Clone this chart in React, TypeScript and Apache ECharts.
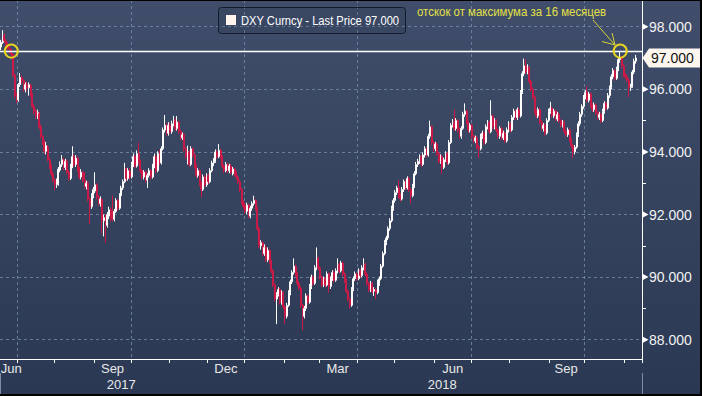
import React, { useEffect, useRef } from 'react';
import * as echarts from 'echarts';

// ---------- categories (trading days) ----------
const startDate = '2017-06-19';
const endDate = '2018-11-14';
const monthLabelDates = ['2017-06-27', '2017-09-15', '2017-12-15', '2018-03-15', '2018-06-15', '2018-09-14'];
const yearLabelDates = ['2017-09-22', '2018-06-07'];
const yearSeparatorDate = '2018-01-01';
const monthNames = ['Jan', 'Feb', 'Mar', 'Apr', 'May', 'Jun', 'Jul', 'Aug', 'Sep', 'Oct', 'Nov', 'Dec'];

// ---------- y axis ----------
const yRange = [87.384, 98.853];
const majorTicks = [88, 90, 92, 94, 96, 98];
const minorTicks = [89, 91, 93, 95, 97];
const highLine = 97.22;
const lastPrice = 97.0;
const circleDates = ['2017-06-27', '2018-10-29'];

// ---------- texts ----------
const legendText = 'DXY Curncy - Last Price 97.000';
const noteText = 'отскок от максимума за 16 месяцев';

// ---------- daily OHLC: [open, close, low, high] ----------
const ohlc: number[][] = [
  [97.35,97.5,97.25,97.58],[97.5,97.72,97.45,97.89],[97.72,97.55,97.48,97.8],[97.55,97.42,97.35,97.62],[97.42,97.3,97.22,97.5],
  [97.3,97.24,97.14,97.4],[97.24,97.12,97.05,97.3],[97.12,96.45,96.4,97.16],[96.45,95.8,95.72,96.5],[95.8,95.66,95.56,95.88],
  [95.66,96.15,95.6,96.2],[96.15,96.38,96.08,96.52],[96.38,96.28,96.18,96.45],[96.28,96.0,95.92,96.32],[96.0,96.15,95.9,96.22],
  [96.15,96.05,95.95,96.25],[96.05,96.15,95.8,96.22],[96.12,95.82,95.75,96.18],[95.82,95.45,95.4,95.88],[95.45,95.3,95.2,95.52],
  [95.3,95.15,95.05,95.38],[95.15,95.25,95.05,95.35],[95.22,94.8,94.72,95.28],[94.8,94.5,94.42,94.88],[94.5,94.3,94.22,94.55],
  [94.3,94.02,93.95,94.38],[94.02,94.2,93.92,94.32],[94.15,93.75,93.7,94.22],[93.75,93.55,93.45,93.82],[93.55,93.3,93.22,93.6],
  [93.3,93.1,93.02,93.38],[93.1,92.95,92.78,93.15],[92.95,93.05,92.85,93.15],[93.0,93.45,92.92,93.52],[93.42,93.6,93.35,93.7],
  [93.6,93.75,93.52,93.9],[93.75,93.5,93.42,93.82],[93.5,93.7,93.42,93.78],[93.7,93.35,93.28,93.75],[93.35,93.15,93.08,93.42],
  [93.15,93.55,93.1,93.62],[93.55,93.85,93.48,94.18],[93.85,93.6,93.52,93.92],[93.6,93.8,93.52,93.9],[93.8,93.45,93.38,93.85],
  [93.45,93.2,93.12,93.52],[93.2,93.35,93.12,93.45],[93.35,93.1,93.02,93.4],[93.1,92.9,92.82,93.35],[92.9,93.0,92.8,93.08],
  [93.0,92.5,92.42,93.05],[92.5,92.25,91.7,92.55],[92.25,92.6,92.18,92.68],[92.6,92.8,92.52,92.88],[92.75,92.95,92.68,93.35],
  [92.95,92.55,92.48,93.0],[92.55,92.35,92.28,92.62],[92.35,92.5,92.25,92.58],[92.48,91.8,91.4,92.52],[91.8,91.9,91.3,92.0],
  [91.95,91.65,91.1,92.0],[91.65,92.0,91.58,92.08],[91.95,92.15,91.85,92.25],[92.15,91.85,91.78,92.22],[92.05,91.85,91.78,92.6],
  [91.85,92.1,91.78,92.18],[92.1,92.45,92.05,92.52],[92.45,92.2,92.12,92.5],[92.2,92.6,92.15,92.68],[92.6,92.85,92.52,92.92],
  [92.85,93.05,92.78,93.12],[93.05,93.45,93.0,93.65],[93.45,93.15,93.08,93.5],[93.15,93.4,93.08,93.48],[93.4,93.2,93.12,93.48],
  [93.2,93.6,93.15,93.68],[93.6,93.85,93.52,93.95],[93.85,93.55,93.48,93.9],[93.55,93.95,93.5,94.05],[93.95,93.7,93.62,94.3],
  [93.7,93.4,93.32,93.75],[93.4,93.2,93.12,93.45],[93.2,93.35,93.12,93.42],[93.35,93.1,93.02,93.4],[93.1,93.25,92.85,93.32],
  [93.25,93.4,93.18,93.48],[93.4,93.2,93.12,93.45],[93.2,93.55,93.15,93.62],[93.55,93.85,93.48,93.95],[93.85,93.4,93.32,93.9],
  [93.4,93.95,93.35,94.02],[93.95,93.65,93.58,94.05],[93.65,94.1,93.6,94.18],[94.1,94.7,94.05,94.78],[94.7,94.85,94.62,95.18],
  [94.85,94.6,94.52,94.92],[94.6,94.85,94.52,94.95],[94.85,94.65,94.58,94.92],[94.65,94.9,94.58,95.0],[94.9,95.0,94.82,95.15],
  [95.0,94.75,94.68,95.08],[94.75,94.95,94.68,95.15],[94.95,94.65,94.58,95.0],[94.65,94.45,94.38,94.72],[94.45,94.55,94.38,94.62],
  [94.55,94.1,94.02,94.6],[94.1,93.85,93.78,94.15],[93.85,94.0,93.6,94.2],[94.0,93.6,93.52,94.05],[93.6,94.1,93.55,94.18],
  [94.1,93.9,93.82,94.15],[93.9,93.55,93.48,93.95],[93.55,93.25,93.18,93.6],[93.25,93.4,93.18,93.48],[93.4,93.0,92.92,93.45],
  [93.0,92.8,92.55,93.05],[92.8,93.2,92.75,93.28],[93.2,92.95,92.88,93.25],[92.95,93.25,92.88,93.32],[93.25,93.05,92.98,93.3],
  [93.05,93.4,93.0,93.48],[93.4,93.65,93.35,93.72],[93.65,93.7,93.55,93.8],[93.7,94.0,93.65,94.08],[94.0,93.85,93.78,94.05],
  [93.85,94.05,93.8,94.25],[94.05,93.85,93.78,94.1],[93.85,93.55,93.48,93.9],[93.55,93.4,93.32,93.6],[93.4,93.6,93.35,93.68],
  [93.6,93.4,93.32,93.65],[93.4,93.55,93.32,93.62],[93.55,93.35,93.28,93.6],[93.3,93.45,93.25,93.52],[93.45,93.3,93.22,93.5],
  [93.3,93.2,93.12,93.38],[93.2,93.05,92.98,93.25],[93.05,92.8,92.72,93.1],[92.8,92.4,92.32,92.85],[92.4,92.25,92.18,92.45],
  [92.3,92.1,92.02,92.38],[92.1,92.3,92.02,92.38],[92.3,91.95,91.88,92.35],[91.95,92.2,91.88,92.28],[92.2,92.35,92.12,92.42],
  [92.35,92.45,92.28,92.6],[92.45,92.2,92.12,92.5],[92.2,91.55,91.48,92.25],[91.55,91.0,90.92,91.6],[91.0,91.1,90.88,91.18],
  [91.1,90.75,90.68,91.15],[90.75,90.95,90.68,91.05],[90.95,90.55,90.48,91.0],[90.55,90.85,90.48,90.95],[90.85,90.5,90.42,90.9],
  [90.5,90.2,90.12,90.55],[90.2,89.75,89.68,90.25],[89.75,89.3,89.22,89.8],[89.3,89.45,88.5,89.52],[89.45,89.6,89.38,89.68],
  [89.6,89.2,89.12,89.65],[89.2,89.5,89.12,89.58],[89.5,89.05,88.98,89.55],[89.05,88.75,88.5,89.1],[88.75,89.1,88.68,89.18],
  [89.1,89.5,89.05,89.58],[89.5,89.85,89.42,89.92],[89.85,90.15,89.78,90.22],[90.15,90.35,90.08,90.6],[90.35,90.1,90.02,90.4],
  [90.1,89.8,89.72,90.15],[89.8,89.65,89.58,89.88],[89.65,89.1,89.02,89.7],[89.1,88.75,88.3,89.15],[88.75,89.0,88.68,89.08],
  [89.0,89.4,88.92,89.48],[89.4,89.2,89.12,89.45],[89.2,89.7,89.15,89.78],[89.7,90.0,89.62,90.08],[90.0,89.8,89.72,90.05],
  [89.8,90.3,89.75,90.38],[90.3,90.6,90.22,90.95],[90.6,90.3,90.22,90.65],[90.3,90.0,89.92,90.35],[90.0,89.75,89.68,90.05],
  [89.75,89.95,89.68,90.02],[89.95,89.75,89.68,90.0],[89.75,90.1,89.7,90.18],[90.1,89.7,89.5,90.15],[89.7,89.95,89.62,90.02],
  [89.95,90.15,89.88,90.22],[90.15,89.9,89.82,90.2],[89.9,90.2,89.85,90.28],[90.2,90.4,90.12,90.6],[90.4,90.2,90.12,90.45],
  [90.2,90.45,90.15,90.52],[90.45,90.1,90.02,90.5],[90.1,89.9,89.82,90.15],[89.9,89.55,89.48,89.95],[89.55,89.3,89.22,89.6],
  [89.3,89.1,89.0,89.35],[89.1,89.6,89.05,89.68],[89.6,89.95,89.55,90.02],[89.95,90.1,89.88,90.18],[90.1,89.95,89.88,90.15],
  [89.95,90.2,89.9,90.28],[90.2,90.05,89.98,90.25],[90.05,90.3,90.0,90.38],[90.3,90.4,90.22,90.6],[90.4,90.1,90.02,90.45],
  [90.1,89.8,89.72,90.15],[89.8,89.6,89.52,89.85],[89.6,89.8,89.52,89.88],[89.8,89.55,89.48,89.85],[89.55,89.6,89.4,89.68],
  [89.6,89.5,89.3,89.65],[89.5,89.85,89.45,89.92],[89.8,89.95,89.72,90.02],[89.95,90.35,89.9,90.42],[90.35,90.75,90.3,90.82],
  [90.75,91.1,90.7,91.18],[91.1,91.25,91.02,91.32],[91.25,91.55,91.18,91.62],[91.55,91.8,91.48,91.88],[91.8,92.2,91.75,92.28],
  [92.2,92.45,92.12,92.52],[92.45,92.7,92.38,92.78],[92.7,92.85,92.62,92.92],[92.85,92.6,92.52,93.1],[92.6,92.5,92.42,92.68],
  [92.5,92.8,92.45,92.88],[92.8,93.05,92.72,93.12],[93.05,92.85,92.78,93.1],[92.85,93.15,92.8,93.22],[93.15,92.8,92.72,93.2],
  [92.8,92.6,92.35,92.85],[92.6,92.9,92.55,92.98],[92.9,93.3,92.85,93.38],[93.3,93.6,93.25,93.68],[93.6,93.7,93.52,93.78],
  [93.7,93.85,93.62,93.92],[93.85,93.6,93.52,93.9],[93.6,93.9,93.55,93.98],[93.9,94.1,93.82,94.18],[94.1,93.9,93.82,94.15],
  [93.9,94.5,93.85,94.58],[94.5,94.8,94.42,95.0],[94.8,94.3,94.22,94.85],[94.3,94.1,94.02,94.35],[94.1,94.25,94.02,94.32],
  [94.25,93.95,93.88,94.3],[93.95,93.7,93.62,94.0],[93.7,93.85,93.62,93.92],[93.85,93.5,93.3,93.9],[93.5,93.75,93.45,93.82],
  [93.75,93.95,93.68,94.02],[93.95,93.65,93.58,94.0],[93.65,94.3,93.6,94.38],[94.3,94.85,94.25,94.92],[94.85,94.95,94.78,95.05],
  [94.95,94.75,94.68,95.35],[94.75,95.0,94.68,95.08],[95.0,94.7,94.62,95.05],[94.7,94.5,94.42,94.75],[94.5,94.75,94.42,94.82],
  [94.75,95.2,94.7,95.28],[95.2,95.3,95.12,95.55],[95.3,94.95,94.88,95.35],[94.95,94.7,94.62,95.0],[94.7,94.85,94.62,94.92],
  [94.85,94.5,94.42,94.9],[94.5,94.35,94.28,94.55],[94.35,94.45,94.28,94.52],[94.45,94.15,94.08,94.5],[94.15,94.1,93.8,94.22],
  [94.1,94.5,94.05,94.58],[94.5,94.6,94.42,94.68],[94.6,94.3,94.22,94.65],[94.3,94.8,94.25,94.88],[94.8,94.95,94.72,95.02],
  [94.95,94.65,94.58,95.0],[94.65,95.15,94.6,95.65],[95.15,94.8,94.72,95.2],[94.8,95.0,94.72,95.08],[95.0,94.7,94.62,95.05],
  [94.7,94.5,94.42,94.75],[94.5,94.75,94.42,94.82],[94.75,94.45,94.38,94.8],[94.45,94.6,94.38,94.68],[94.6,94.35,94.28,94.65],
  [94.35,94.7,94.3,94.78],[94.7,94.9,94.62,94.98],[94.9,94.7,94.62,94.95],[94.7,95.1,94.65,95.18],[95.1,95.3,95.02,95.38],
  [95.3,95.1,95.02,95.35],[95.1,95.35,95.02,95.42],[95.35,95.15,95.08,95.4],[95.15,95.9,95.1,95.98],[95.9,96.5,95.85,96.58],
  [96.5,96.75,96.42,96.98],[96.75,96.55,96.48,96.95],[96.55,96.7,96.48,96.8],[96.7,96.25,96.18,96.75],[96.25,96.0,95.92,96.3],
  [96.0,95.75,95.68,96.05],[95.75,95.3,95.22,95.8],[95.3,95.15,95.08,95.35],[95.15,95.35,95.08,95.42],[95.35,94.95,94.88,95.4],
  [94.95,94.75,94.68,95.0],[94.75,94.85,94.65,94.92],[94.85,94.6,94.52,94.9],[94.6,95.0,94.55,95.08],[95.0,95.3,94.95,95.38],
  [95.3,95.4,95.22,95.6],[95.4,95.15,95.08,95.45],[95.15,95.3,95.08,95.38],[95.3,95.05,94.98,95.35],[95.05,95.2,94.98,95.28],
  [95.2,95.0,94.92,95.25],[95.0,94.85,94.78,95.05],[94.85,94.95,94.78,95.02],[94.95,94.65,94.58,95.0],[94.65,94.55,94.48,94.72],
  [94.55,94.7,94.48,94.78],[94.7,94.4,94.32,94.75],[94.4,94.2,94.12,94.45],[94.2,94.0,93.8,94.25],[94.0,94.15,93.92,94.22],
  [94.15,94.55,94.1,94.62],[94.55,94.9,94.48,94.98],[94.9,95.2,94.82,95.28],[95.2,95.45,95.12,95.52],[95.45,95.75,95.38,95.82],
  [95.75,95.9,95.68,95.98],[95.9,95.65,95.58,96.1],[95.65,95.85,95.58,95.92],[95.85,95.5,95.42,95.9],[95.5,95.35,95.28,95.55],
  [95.35,95.5,95.28,95.58],[95.5,95.25,95.18,95.55],[95.25,95.1,95.02,95.3],[95.1,95.2,95.02,95.28],[95.2,95.0,94.92,95.25],
  [95.0,95.3,94.95,95.38],[95.3,95.55,95.22,95.62],[95.55,95.4,95.32,95.6],[95.4,95.8,95.35,95.88],[95.8,96.05,95.72,96.12],
  [96.05,96.4,96.0,96.48],[96.4,96.6,96.32,96.68],[96.6,96.35,96.28,96.65],[96.35,96.65,96.3,96.72],[96.65,96.95,96.58,97.02],
  [96.95,97.0,96.85,97.2],[97.0,96.75,96.68,97.05],[96.75,96.45,96.38,96.8],[96.45,96.4,96.32,96.52],[96.4,96.3,96.22,96.48],
  [96.3,96.05,95.75,96.35],[96.05,96.1,95.95,96.18],[96.1,96.55,96.05,96.62],[96.55,96.9,96.48,96.98],[96.9,97.0,96.82,97.1],
];

const FONT = "'Liberation Sans', Arial, sans-serif";

function tradingDays(start: string, end: string): string[] {
  const out: string[] = [];
  const d = new Date(start + 'T00:00:00Z');
  const e = new Date(end + 'T00:00:00Z');
  while (d.getTime() <= e.getTime()) {
    const wd = d.getUTCDay();
    if (wd !== 0 && wd !== 6) out.push(d.toISOString().slice(0, 10));
    d.setUTCDate(d.getUTCDate() + 1);
  }
  return out;
}

export default function App() {
  const ref = useRef<HTMLDivElement>(null);

  useEffect(() => {
    if (!ref.current) return;
    const chart = echarts.init(ref.current, undefined, { renderer: 'svg' });
    const dates = tradingDays(startDate, endDate);
    const monthOf = (s: string) => s.slice(0, 7);
    const isMonthStart = (i: number) => i > 0 && monthOf(dates[i]) !== monthOf(dates[i - 1]);
    const isQuarterStart = (i: number) => isMonthStart(i) && [1, 4, 7, 10].includes(+dates[i].slice(5, 7));
    const labelSet = new Set(monthLabelDates);
    const yearSet = new Set(yearLabelDates);

    const gridLine = { color: 'rgba(120,145,175,0.75)', width: 1, type: [3, 3] as number[] };

    chart.setOption({
      animation: false,
      backgroundColor: new echarts.graphic.LinearGradient(0, 0, 0, 1, [
        { offset: 0, color: '#404e6b' },
        { offset: 1, color: '#2a3853' },
      ]),
      grid: { left: 0, right: 60, top: 0, bottom: 37, outerBoundsMode: 'none', containLabel: false },
      xAxis: [
        {
          type: 'category',
          data: dates,
          boundaryGap: true,
          axisLine: { show: true, onZero: false, lineStyle: { color: '#ffffff', width: 1 } },
          axisTick: { show: true, interval: (i: number) => isMonthStart(i), length: 4, lineStyle: { color: '#ffffff' } },
          axisLabel: {
            interval: (_i: number, v: string) => labelSet.has(v),
            formatter: (v: string) => monthNames[+v.slice(5, 7) - 1],
            color: '#e8e8e8', fontSize: 13, fontFamily: FONT, margin: 3,
          },
          splitLine: { show: true, interval: (i: number) => isQuarterStart(i), lineStyle: gridLine },
        },
        {
          type: 'category',
          data: dates,
          boundaryGap: true,
          position: 'bottom',
          offset: 14,
          axisLine: { show: false, onZero: false },
          axisTick: { show: true, interval: (_i: number, v: string) => v === yearSeparatorDate, length: 24, lineStyle: { color: '#7d8aa3' } },
          axisLabel: {
            interval: (_i: number, v: string) => yearSet.has(v),
            formatter: (v: string) => v.slice(0, 4),
            color: '#e8e8e8', fontSize: 13, fontFamily: FONT, margin: 5,
          },
          splitLine: { show: false },
        },
      ],
      yAxis: [
        {
          type: 'value',
          position: 'right',
          min: yRange[0],
          max: yRange[1],
          axisLine: { show: true, lineStyle: { color: '#ffffff', width: 1 } },
          axisTick: { show: true, customValues: minorTicks, length: 4, lineStyle: { color: '#ffffff' } },
          axisLabel: {
            customValues: majorTicks,
            formatter: (v: number) => v.toFixed(3),
            color: '#f2f2f2', fontSize: 14, fontFamily: FONT, margin: 7,
          },
          splitLine: { show: false },
        },
        {
          type: 'value',
          position: 'right',
          min: yRange[0],
          max: yRange[1],
          axisLine: { show: false },
          axisTick: { show: false, customValues: majorTicks },
          axisLabel: { show: false, customValues: majorTicks },
          splitLine: { show: true, lineStyle: gridLine },
        },
      ],
      series: [
        {
          type: 'candlestick',
          xAxisIndex: 0,
          yAxisIndex: 0,
          data: ohlc,
          barWidth: 1.5,
          itemStyle: {
            color: 'rgba(0,0,0,0)',
            color0: '#cc1a48',
            borderColor: '#ffffff',
            borderColor0: '#cc1a48',
            borderWidth: 1,
          },
          markLine: {
            silent: true,
            symbol: 'none',
            label: { show: false },
            lineStyle: { color: '#ffffff', width: 1.3, type: 'solid' },
            data: [{ yAxis: highLine }],
          },
          markPoint: {
            silent: true,
            symbol: 'circle',
            symbolSize: 13,
            label: { show: false },
            itemStyle: { color: 'rgba(0,0,0,0)', borderColor: '#e8d41e', borderWidth: 2 },
            data: circleDates.map((d) => ({ coord: [d, highLine] })),
          },
        },
      ],
    });

    const yPix = (v: number) => chart.convertToPixel({ yAxisIndex: 0 }, v) as number;
    const axisX = 642;
    const tagY = yPix(lastPrice);

    const graphics: any[] = [];
    majorTicks.forEach((v) => {
      const y = yPix(v);
      graphics.push({ type: 'polygon', z: 50, shape: { points: [[axisX + 1, y - 3], [axisX + 6.5, y], [axisX + 1, y + 3]] }, style: { fill: '#ffffff' } });
    });
    graphics.push(
      { type: 'polygon', z: 50, shape: { points: [[axisX + 0.5, tagY], [axisX + 7, tagY - 9.5], [701, tagY - 9.5], [701, tagY + 9.5], [axisX + 7, tagY + 9.5]] }, style: { fill: '#fdf6ee' } },
      { type: 'text', z: 51, x: axisX + 9, y: tagY, style: { text: lastPrice.toFixed(3), fill: '#111111', font: `14px ${FONT}`, textVerticalAlign: 'middle' } },
      { type: 'rect', z: 50, shape: { x: 218.5, y: 7.5, width: 187, height: 26, r: 3 }, style: { fill: 'rgba(30,40,60,0.15)', stroke: '#141a28', lineWidth: 1 } },
      { type: 'rect', z: 51, shape: { x: 226, y: 15, width: 10, height: 10 }, style: { fill: '#fff4ee' } },
      { type: 'text', z: 51, x: 241, y: 21, scaleX: 0.86, style: { text: legendText, fill: '#ffffff', font: `13px ${FONT}`, textVerticalAlign: 'middle' } },
      { type: 'text', z: 51, x: 417, y: 12, scaleX: 0.88, style: { text: noteText, fill: '#e4e046', font: `13px ${FONT}`, textVerticalAlign: 'middle' } },
      { type: 'line', z: 51, shape: { x1: 593, y1: 20, x2: 615, y2: 45 }, style: { stroke: '#d8d43c', lineWidth: 1 } },
      { type: 'polyline', z: 51, shape: { points: [[602, 41.5], [615, 45], [612, 33]] }, style: { stroke: '#d8d43c', lineWidth: 1, fill: 'none' } },
      { type: 'rect', z: 60, shape: { x: 0, y: 0, width: 702, height: 1 }, style: { fill: '#000000' } },
      { type: 'rect', z: 60, shape: { x: 700, y: 0, width: 2, height: 396 }, style: { fill: '#000000' } },
      { type: 'rect', z: 60, shape: { x: 0, y: 394, width: 702, height: 2 }, style: { fill: '#000000' } },
    );
    chart.setOption({ graphic: graphics });

    return () => chart.dispose();
  }, []);

  return <div ref={ref} style={{ position: 'fixed', left: 0, top: 0, width: 702, height: 396 }} />;
}
